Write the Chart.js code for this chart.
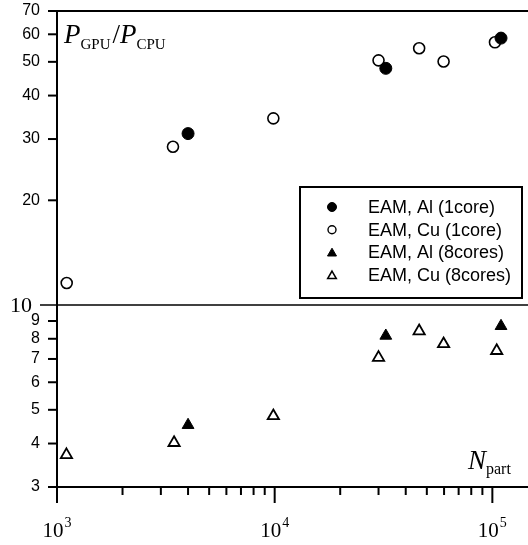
<!DOCTYPE html>
<html>
<head>
<meta charset="utf-8">
<script src="https://cdn.jsdelivr.net/npm/chart.js@4"></script>
<style>
html, body { margin: 0; padding: 0; background: #fff; }
#wrap { width: 528px; height: 545px; position: relative; }
</style>
</head>
<body>
<div id="wrap"><canvas id="myChart"></canvas></div>
<script>
// values
const seriesNames = ['EAM, Al (1core)', 'EAM, Cu (1core)', 'EAM, Al (8cores)', 'EAM, Cu (8cores)'];

const nAl1 = [4000, 32400, 109600];
const pAl1 = [31.1, 47.9, 58.5];

const nCu1 = [1108, 3410, 9860, 30000, 46100, 59700, 102800];
const pCu1 = [11.57, 28.5, 34.4, 50.5, 54.7, 50.1, 56.9];

const nAl8 = [4000, 32400, 109600];
const pAl8 = [4.52, 8.16, 8.7];

const nCu8 = [1105, 3450, 9860, 30000, 46100, 59700, 104700];
const pCu8 = [3.71, 4.02, 4.8, 7.06, 8.42, 7.73, 7.39];

const yTicks = [3, 4, 5, 6, 7, 8, 9, 10, 20, 30, 40, 50, 60, 70];
const xMajor = [1e3, 1e4, 1e5];
const xMajorExp = ['3', '4', '5'];
const xMinor = [2e3, 3e3, 4e3, 5e3, 6e3, 7e3, 8e3, 9e3, 2e4, 3e4, 4e4, 5e4, 6e4, 7e4, 8e4, 9e4];

const SANS = '"Liberation Sans", Arial, sans-serif';
const SERIF = '"Liberation Serif", "Times New Roman", serif';

function pts(xs, ys) {
    return xs.map((x, i) => ({ x: x, y: ys[i] }));
}

const styles = [
    { pointStyle: 'circle', radius: 6, backgroundColor: '#000', borderColor: '#000', borderWidth: 1 },
    { pointStyle: 'circle', radius: 5.5, backgroundColor: '#fff', borderColor: '#000', borderWidth: 1.6 },
    { pointStyle: 'triangle', radius: 6.8, backgroundColor: '#000', borderColor: '#000', borderWidth: 1 },
    { pointStyle: 'triangle', radius: 6.5, backgroundColor: '#fff', borderColor: '#000', borderWidth: 1.8 }
];
const legendStyles = [
    { pointStyle: 'circle', radius: 4.5, backgroundColor: '#000', borderColor: '#000', borderWidth: 1 },
    { pointStyle: 'circle', radius: 4, backgroundColor: '#fff', borderColor: '#000', borderWidth: 1.4 },
    { pointStyle: 'triangle', radius: 5.2, backgroundColor: '#000', borderColor: '#000', borderWidth: 1 },
    { pointStyle: 'triangle', radius: 5, backgroundColor: '#fff', borderColor: '#000', borderWidth: 1.5 }
];

const allData = [pts(nAl1, pAl1), pts(nCu1, pCu1), pts(nAl8, pAl8), pts(nCu8, pCu8)];

const decor = {
    id: 'decor',
    afterDraw(chart) {
        const ctx = chart.ctx;
        const area = chart.chartArea;
        const xs = chart.scales.x;
        const ys = chart.scales.y;
        ctx.save();
        ctx.strokeStyle = '#000';
        ctx.fillStyle = '#000';

        // top frame line
        ctx.lineWidth = 2;
        ctx.beginPath();
        ctx.moveTo(area.left - 1, area.top);
        ctx.lineTo(chart.width, area.top);
        ctx.stroke();

        // line at 10
        const y10 = ys.getPixelForValue(10);
        ctx.lineWidth = 1.5;
        ctx.beginPath();
        ctx.moveTo(40, y10);
        ctx.lineTo(chart.width, y10);
        ctx.stroke();

        // y ticks + labels
        ctx.lineWidth = 2;
        ctx.textBaseline = 'middle';
        ctx.textAlign = 'right';
        yTicks.forEach(v => {
            const y = ys.getPixelForValue(v);
            if (v === 10) {
                ctx.font = '22px ' + SERIF;
                ctx.fillText('10', 32, y + 1);
                return;
            }
            ctx.beginPath();
            ctx.moveTo(area.left - 9, y);
            ctx.lineTo(area.left, y);
            ctx.stroke();
            ctx.font = '16px ' + SANS;
            ctx.fillText(String(v), 40, y);
        });

        // x ticks
        xMinor.forEach(v => {
            const x = xs.getPixelForValue(v);
            ctx.beginPath();
            ctx.moveTo(x, area.bottom);
            ctx.lineTo(x, area.bottom + 8);
            ctx.stroke();
        });
        ctx.textAlign = 'left';
        ctx.textBaseline = 'alphabetic';
        xMajor.forEach((v, i) => {
            const x = xs.getPixelForValue(v);
            ctx.beginPath();
            ctx.moveTo(x, area.bottom);
            ctx.lineTo(x, area.bottom + 16);
            ctx.stroke();
            ctx.font = '21px ' + SERIF;
            const w1 = ctx.measureText('10').width;
            ctx.font = '14px ' + SERIF;
            const w2 = ctx.measureText(xMajorExp[i]).width;
            const x0 = x - (w1 + w2 + 1) / 2;
            ctx.font = '21px ' + SERIF;
            ctx.fillText('10', x0, 537);
            ctx.font = '14px ' + SERIF;
            ctx.fillText(xMajorExp[i], x0 + w1 + 1, 527);
        });

        // axis titles
        let tx = 64;
        ctx.font = 'italic 27px ' + SERIF;
        ctx.fillText('P', tx, 43);
        tx += ctx.measureText('P').width;
        ctx.font = '15px ' + SERIF;
        ctx.fillText('GPU', tx, 49);
        tx += ctx.measureText('GPU').width + 2;
        ctx.font = '27px ' + SERIF;
        ctx.fillText('/', tx, 43);
        tx += ctx.measureText('/').width;
        ctx.font = 'italic 27px ' + SERIF;
        ctx.fillText('P', tx, 43);
        tx += ctx.measureText('P').width;
        ctx.font = '15px ' + SERIF;
        ctx.fillText('CPU', tx, 49);

        ctx.font = 'italic 27px ' + SERIF;
        ctx.fillText('N', 468, 469);
        const nw = ctx.measureText('N').width;
        ctx.font = '16px ' + SERIF;
        ctx.fillText('part', 468 + nw, 474);

        // legend
        ctx.fillStyle = '#fff';
        ctx.fillRect(300, 187, 222, 111);
        ctx.lineWidth = 2;
        ctx.strokeRect(300, 187, 222, 111);
        ctx.font = '18px ' + SANS;
        ctx.textBaseline = 'middle';
        seriesNames.forEach((name, i) => {
            const y = 207 + i * 22.7;
            const st = legendStyles[i];
            ctx.fillStyle = st.backgroundColor;
            ctx.strokeStyle = st.borderColor;
            ctx.lineWidth = st.borderWidth;
            Chart.helpers.drawPoint(ctx, { pointStyle: st.pointStyle, radius: st.radius, rotation: 0, borderWidth: st.borderWidth }, 332, y + (st.pointStyle === 'triangle' ? 1 : 0));
            ctx.fillStyle = '#000';
            ctx.fillText(name, 368, y + 1);
        });
        ctx.restore();
    }
};

const myChart = new Chart(document.getElementById('myChart'), {
    type: 'scatter',
    data: {
        datasets: seriesNames.map((name, i) => ({
            label: name,
            data: allData[i],
            pointStyle: styles[i].pointStyle,
            pointRadius: styles[i].radius,
            pointBackgroundColor: styles[i].backgroundColor,
            pointBorderColor: styles[i].borderColor,
            pointBorderWidth: styles[i].borderWidth,
            showLine: false
        }))
    },
    options: {
        responsive: true,
        maintainAspectRatio: false,
        animation: false,
        layout: { autoPadding: false, padding: { left: 57, right: 0, top: 11, bottom: 58 } },
        plugins: {
            legend: { display: false },
            tooltip: { enabled: false }
        },
        scales: {
            x: {
                type: 'logarithmic',
                min: 1000,
                max: 145800,
                ticks: { display: false },
                grid: { display: false, drawTicks: false },
                border: { display: true, color: '#000', width: 2 }
            },
            y: {
                type: 'logarithmic',
                min: 3,
                max: 70,
                ticks: { display: false },
                grid: { display: false, drawTicks: false },
                border: { display: true, color: '#000', width: 2 }
            }
        }
    },
    plugins: [decor]
});
</script>
</body>
</html>
